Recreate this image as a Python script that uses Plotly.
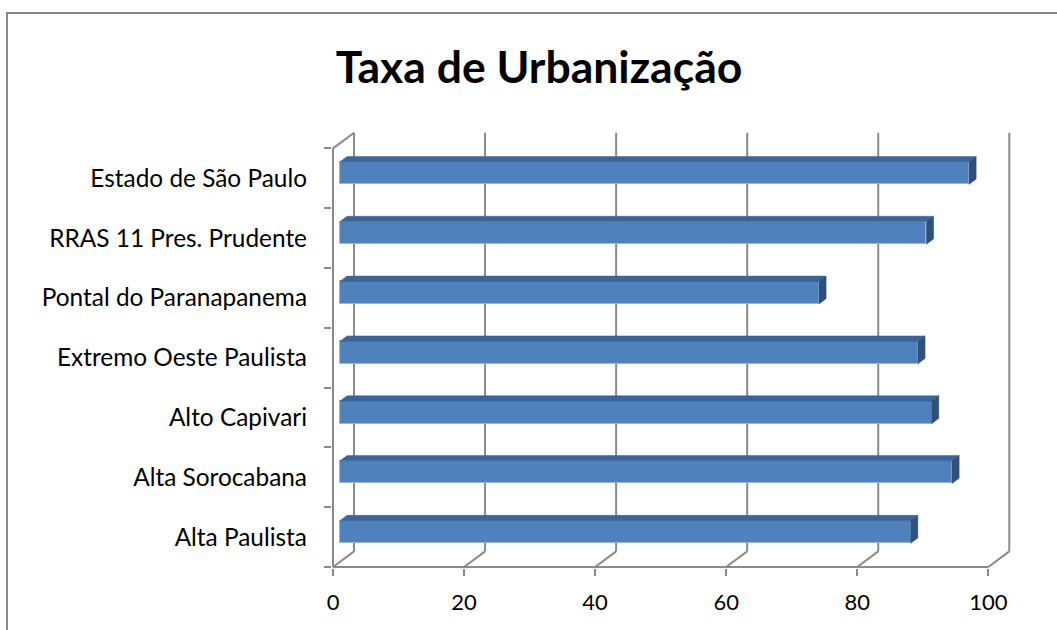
import plotly.graph_objects as go

# ---- data ----
categories = ["Alta Paulista", "Alta Sorocabana", "Alto Capivari",
              "Extremo Oeste Paulista", "Pontal do Paranapanema",
              "RRAS 11 Pres. Prudente", "Estado de São Paulo"]
values = [87.1, 93.4, 90.3, 88.2, 73.1, 89.5, 96.0]
x_ticks = [0, 20, 40, 60, 80, 100]
title_text = "Taxa de Urbanização"

# ---- pseudo-3D geometry (style) ----
W, H = 1057, 630
L_M, R_M, T_M, B_M = 332, 46, 131, 62
PX_X = 6.553          # px per x unit
PX_Y = 59.81          # px per category
DX = 21.0 / PX_X      # depth offset in x units
DY = 15.6 / PX_Y      # depth offset in y units
D_FRONT, D_BACK = 0.33, 0.67
BAR_W = 0.378
GRID = "#8a8a8a"
FRONT = "#4F81BD"
TOP = "#3C6496"
SIDE = "#2F5079"

xmin = -1.0 / PX_X
xmax = xmin + (W - L_M - R_M) / PX_X
ymin = -0.5 - 1.0 / PX_Y
ymax = ymin + (H - T_M - B_M) / PX_Y

n = len(categories)
y_lo, y_hi = -0.5, n - 0.5

fig = go.Figure()

# frame (walls / floor / gridlines) as shapes below traces
shapes = []
def seg(x0, y0, x1, y1):
    shapes.append(dict(type="line", xref="x", yref="y", x0=x0, y0=y0, x1=x1, y1=y1,
                       line=dict(color=GRID, width=2), layer="below"))

seg(0, y_lo, 0, y_hi)                      # front-left axis
seg(0, y_hi, DX, y_hi + DY)                # left wall top
seg(0, y_lo, x_ticks[-1], y_lo)            # front floor edge
for v in x_ticks:
    seg(v, y_lo, v + DX, y_lo + DY)        # floor diagonals
    seg(v + DX, y_lo + DY, v + DX, y_hi + DY)  # back gridlines

# outer chart border (paper coords)
pw, ph = W - L_M - R_M, H - T_M - B_M
def px2paper_x(p): return (p - L_M) / pw
def px2paper_y(p): return (H - B_M - p) / ph
shapes.append(dict(type="rect", xref="paper", yref="paper",
                   x0=px2paper_x(7), y0=px2paper_y(645), x1=px2paper_x(1070), y1=px2paper_y(13),
                   line=dict(color="#888888", width=2), fillcolor="rgba(0,0,0,0)", layer="below"))

# bar front faces
yc = [i + DY * D_FRONT for i in range(n)]
fig.add_trace(go.Bar(
    orientation="h", y=yc, x=values, base=DX * D_FRONT, width=BAR_W,
    marker=dict(color=FRONT, line=dict(color="#9DB5D8", width=1)),
    hoverinfo="skip", showlegend=False))

# top and side faces
ddx = DX * (D_BACK - D_FRONT)
ddy = DY * (D_BACK - D_FRONT)
tx, ty, sx, sy = [], [], [], []
for i, v in enumerate(values):
    x0 = DX * D_FRONT
    x1 = x0 + v
    top = yc[i] + BAR_W / 2
    bot = yc[i] - BAR_W / 2
    tx += [x0, x0 + ddx, x1 + ddx, x1, x0, None]
    ty += [top, top + ddy, top + ddy, top, top, None]
    sx += [x1, x1, x1 + ddx, x1 + ddx, x1, None]
    sy += [bot, top, top + ddy, bot + ddy, bot, None]
fig.add_trace(go.Scatter(x=tx, y=ty, mode="lines", fill="toself", fillcolor=TOP,
                         line=dict(color=TOP, width=0.5), hoverinfo="skip", showlegend=False))
fig.add_trace(go.Scatter(x=sx, y=sy, mode="lines", fill="toself", fillcolor=SIDE,
                         line=dict(color=SIDE, width=0.5), hoverinfo="skip", showlegend=False))

fig.update_layout(
    template="none",
    width=W, height=H,
    margin=dict(l=L_M, r=R_M, t=T_M, b=B_M, autoexpand=False),
    paper_bgcolor="white", plot_bgcolor="rgba(0,0,0,0)",
    shapes=shapes,
    title=dict(text=title_text, x=539 / W, xref="container", xanchor="center",
               y=1 - 67 / H, yref="container", yanchor="middle",
               font=dict(family="Lato", size=44.5, color="black", weight="bold")),
    xaxis=dict(range=[xmin, xmax], showgrid=False, zeroline=False, showline=False,
               tickvals=x_ticks, ticktext=[str(t) for t in x_ticks],
               ticks="outside", ticklen=7, tickwidth=2, tickcolor=GRID,
               ticklabelstandoff=8, automargin=False,
               tickfont=dict(family="Lato", size=22, color="black")),
    yaxis=dict(range=[ymin, ymax], showgrid=False, zeroline=False, showline=False,
               tickvals=list(range(n)), ticktext=categories, ticks="",
               ticklabelstandoff=24, automargin=False,
               tickfont=dict(family="Lato", size=24.4, color="black"),
               minor=dict(tickvals=[i - 0.5 for i in range(n + 1)], ticks="outside",
                          ticklen=7, tickwidth=2, tickcolor=GRID, showgrid=False)),
    bargap=0,
)

fig.write_html("out.html", config={"displayModeBar": False},
               post_script="document.body.style.margin='0px';document.body.style.overflow='hidden';")
